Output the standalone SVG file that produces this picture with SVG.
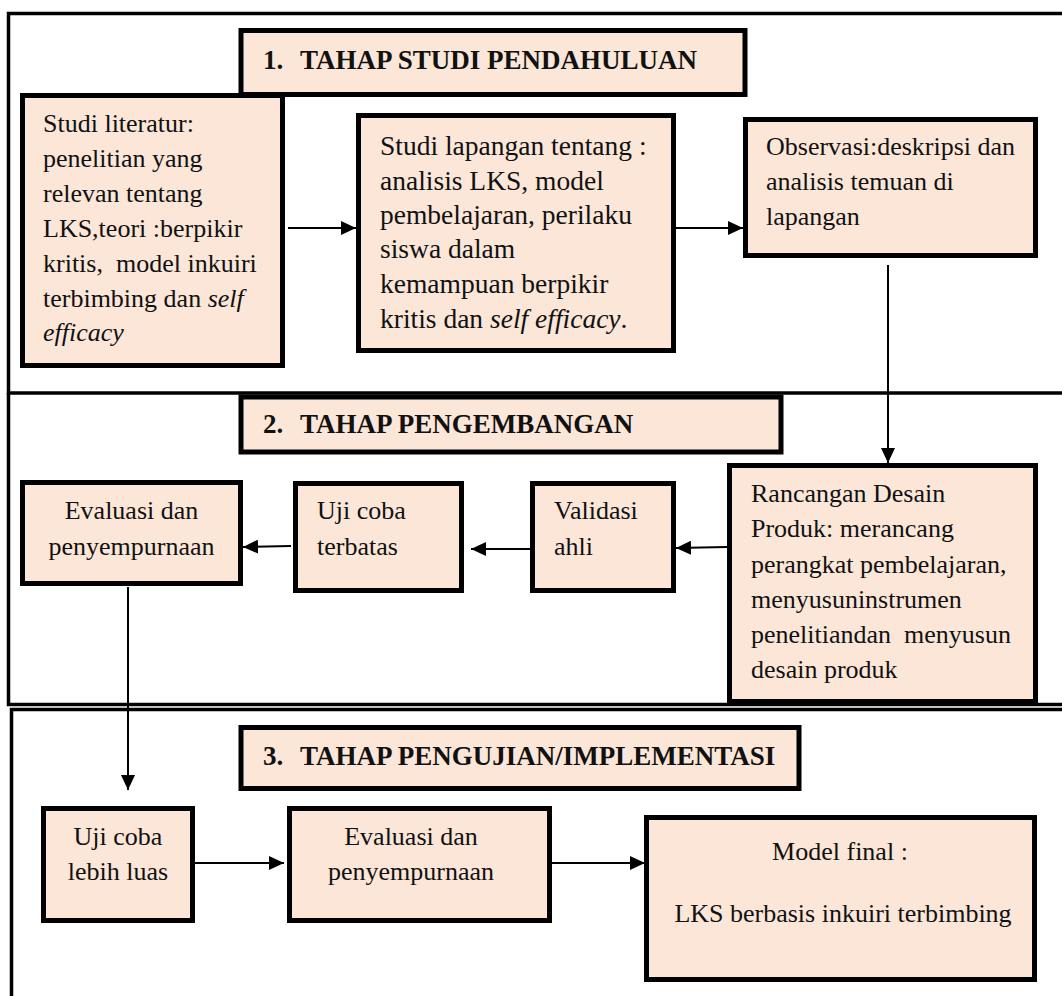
<svg xmlns="http://www.w3.org/2000/svg" width="1062" height="996" viewBox="0 0 1062 996">
<defs>
<style>
.sec{fill:none;stroke:#000;stroke-width:3.5}
.box{fill:#FBE6D8;stroke:#000;stroke-width:5}
.t{font-family:"Liberation Serif","Times New Roman",serif;font-size:26px;fill:#111}
.h{font-family:"Liberation Serif","Times New Roman",serif;font-size:27px;font-weight:bold;fill:#111}
.c{text-anchor:middle}
.i{font-style:italic}
.ln{stroke:#000;stroke-width:2;fill:none}
</style>
<marker id="ah" markerUnits="userSpaceOnUse" markerWidth="16" markerHeight="14" refX="15" refY="7" orient="auto">
<path d="M0,0 L15,7 L0,14 Z" fill="#000"/>
</marker>
</defs>
<rect width="1062" height="996" fill="#fff"/>
<g id="sections">
<path class="sec" d="M1070,13.5 H8.5 V393 H1070"/>
<path class="sec" d="M8.5,393 V704.5 H1070"/>
<path class="sec" d="M1070,709.5 H11.5 V996"/>
</g>
<g id="title1">
<rect class="box" x="241" y="30.5" width="504" height="64"/>
<text class="h" y="69"><tspan x="263">1.</tspan><tspan x="300">TAHAP STUDI PENDAHULUAN</tspan></text>
</g>
<g id="studi-literatur">
<rect class="box" x="22.5" y="95.5" width="260" height="270"/>
<text class="t" xml:space="preserve"><tspan x="43" y="132">Studi literatur:</tspan><tspan x="43" y="167">penelitian yang</tspan><tspan x="43" y="202">relevan tentang</tspan><tspan x="43" y="237">LKS,teori :berpikir</tspan><tspan x="43" y="272">kritis,  model inkuiri</tspan><tspan x="43" y="307">terbimbing dan <tspan class="i">self</tspan></tspan><tspan x="43" y="341" class="i">efficacy</tspan></text>
</g>
<g id="studi-lapangan">
<rect class="box" x="358.5" y="115.5" width="315" height="235"/>
<text class="t" style="font-size:27.5px"><tspan x="380" y="155">Studi lapangan tentang :</tspan><tspan x="380" y="190">analisis LKS, model</tspan><tspan x="380" y="224">pembelajaran, perilaku</tspan><tspan x="380" y="258">siswa dalam</tspan><tspan x="380" y="293">kemampuan berpikir</tspan><tspan x="380" y="328">kritis dan <tspan class="i">self efficacy</tspan>.</tspan></text>
</g>
<g id="observasi">
<rect class="box" x="745.5" y="119.5" width="290" height="136"/>
<text class="t"><tspan x="766" y="155">Observasi:deskripsi dan</tspan><tspan x="766" y="190">analisis temuan di</tspan><tspan x="766" y="225">lapangan</tspan></text>
</g>
<g id="title2">
<rect class="box" x="241" y="397" width="540" height="55"/>
<text class="h" y="433"><tspan x="263">2.</tspan><tspan x="300">TAHAP PENGEMBANGAN</tspan></text>
</g>
<g id="rancangan">
<rect class="box" x="729.5" y="465.5" width="306" height="236"/>
<text class="t" xml:space="preserve"><tspan x="751" y="502">Rancangan Desain</tspan><tspan x="751" y="537">Produk: merancang</tspan><tspan x="751" y="573">perangkat pembelajaran,</tspan><tspan x="751" y="608">menyusuninstrumen</tspan><tspan x="751" y="643">penelitiandan  menyusun</tspan><tspan x="751" y="678">desain produk</tspan></text>
</g>
<g id="validasi">
<rect class="box" x="532.5" y="483.5" width="141" height="107"/>
<text class="t"><tspan x="554" y="519">Validasi</tspan><tspan x="554" y="555">ahli</tspan></text>
</g>
<g id="uji-terbatas">
<rect class="box" x="295.5" y="483.5" width="166" height="107"/>
<text class="t"><tspan x="317" y="519">Uji coba</tspan><tspan x="317" y="555">terbatas</tspan></text>
</g>
<g id="evaluasi1">
<rect class="box" x="22.5" y="482.5" width="218" height="101"/>
<text class="t c"><tspan x="131.5" y="519">Evaluasi dan</tspan><tspan x="131.5" y="555">penyempurnaan</tspan></text>
</g>
<g id="title3">
<rect class="box" x="241" y="727.5" width="558" height="61"/>
<text class="h" y="765"><tspan x="263">3.</tspan><tspan x="300">TAHAP PENGUJIAN/IMPLEMENTASI</tspan></text>
</g>
<g id="uji-luas">
<rect class="box" x="43.5" y="808.5" width="149" height="112"/>
<text class="t c"><tspan x="118" y="845">Uji coba</tspan><tspan x="118" y="880">lebih luas</tspan></text>
</g>
<g id="evaluasi2">
<rect class="box" x="289.5" y="808.5" width="260" height="112"/>
<text class="t c"><tspan x="411" y="845">Evaluasi dan</tspan><tspan x="411" y="880">penyempurnaan</tspan></text>
</g>
<g id="model-final">
<rect class="box" x="646.5" y="817.5" width="388" height="162"/>
<text class="t c"><tspan x="840" y="860">Model final :</tspan><tspan x="843" y="922">LKS berbasis inkuiri terbimbing</tspan></text>
</g>
<g id="connectors">
<line class="ln" x1="288" y1="228" x2="356" y2="228" marker-end="url(#ah)"/>
<line class="ln" x1="676" y1="228" x2="743" y2="228" marker-end="url(#ah)"/>
<line class="ln" x1="888" y1="265" x2="888" y2="463" marker-end="url(#ah)"/>
<line class="ln" x1="727" y1="547" x2="676" y2="548" marker-end="url(#ah)"/>
<line class="ln" x1="530" y1="549" x2="471" y2="549" marker-end="url(#ah)"/>
<line class="ln" x1="291" y1="546" x2="243" y2="547" marker-end="url(#ah)"/>
<line class="ln" x1="128" y1="587" x2="128" y2="790" marker-end="url(#ah)"/>
<line class="ln" x1="195" y1="863" x2="284" y2="863" marker-end="url(#ah)"/>
<line class="ln" x1="552" y1="863" x2="645" y2="863" marker-end="url(#ah)"/>
</g>
</svg>
